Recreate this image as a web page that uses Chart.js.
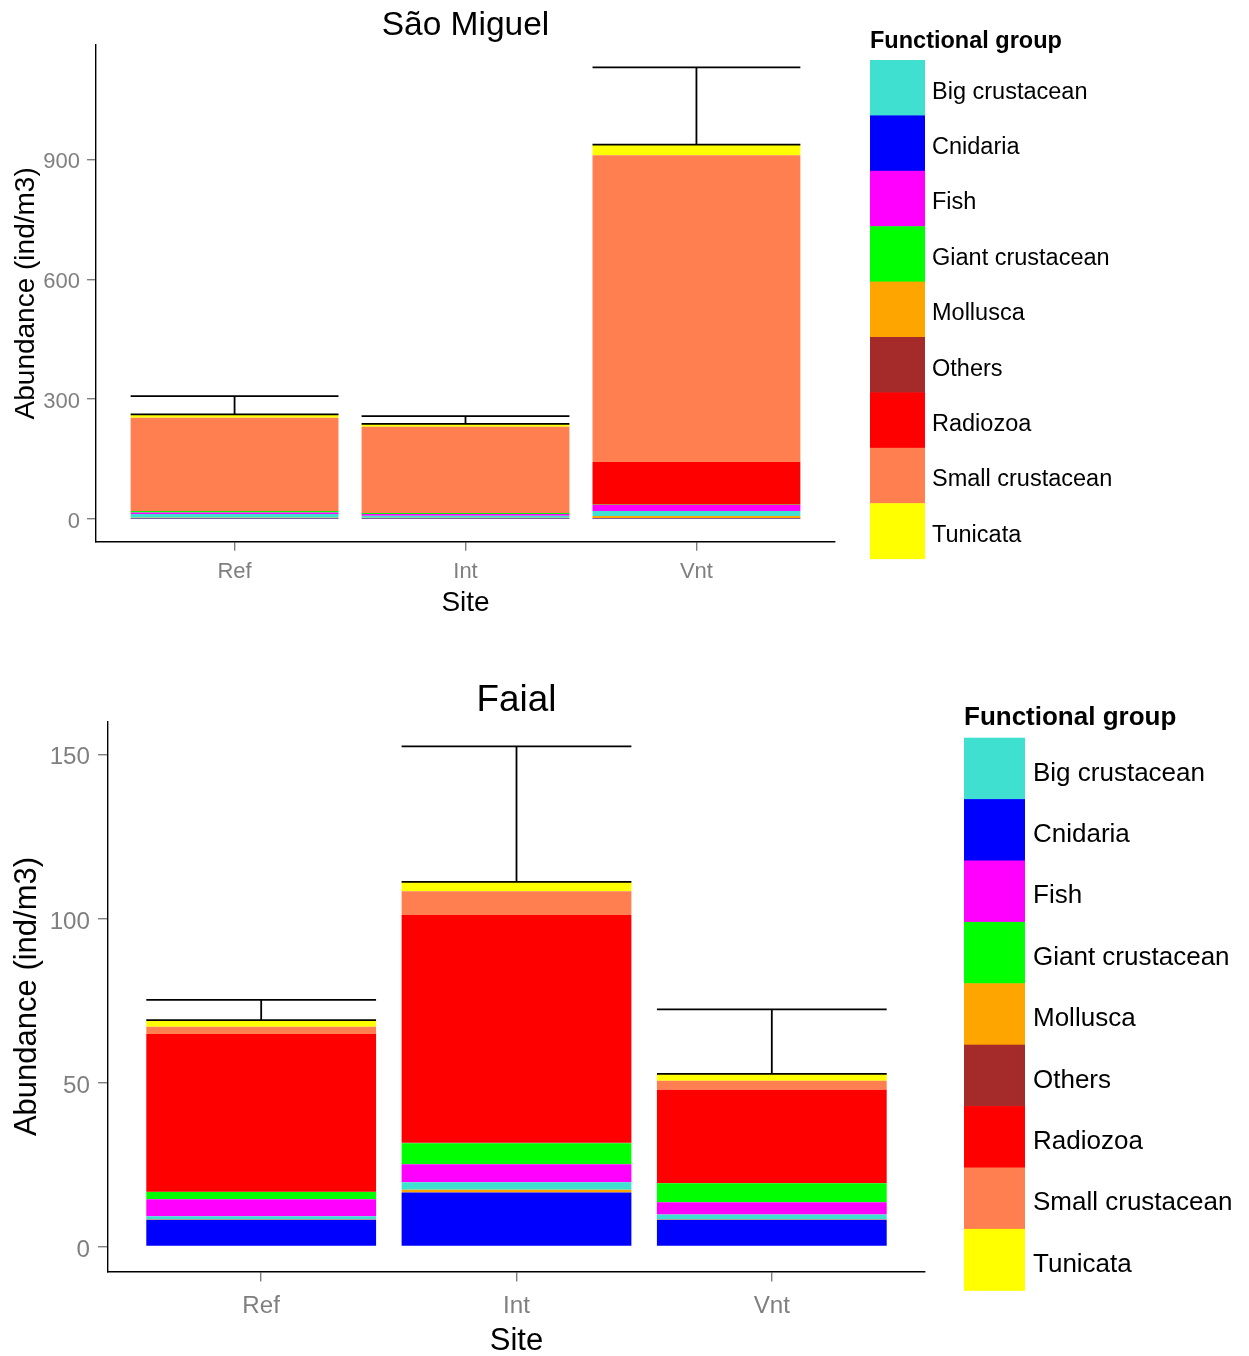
<!DOCTYPE html>
<html>
<head>
<meta charset="utf-8">
<title>Abundance by functional group</title>
<script src="https://cdn.jsdelivr.net/npm/chart.js@4.4.0/dist/chart.umd.min.js"></script>
<style>
  body { margin: 0; background: #fff; }
  canvas { display: block; }
</style>
</head>
<body>
<canvas id="saoMiguel" width="1249" height="640"></canvas>
<canvas id="faial" width="1249" height="716"></canvas>
<script>
const sites = ['Ref', 'Int', 'Vnt'];

// stacking order, bottom to top
const groups = [
  'Cnidaria',
  'Mollusca',
  'Big crustacean',
  'Fish',
  'Giant crustacean',
  'Others',
  'Radiozoa',
  'Small crustacean',
  'Tunicata'
];

const groupColors = [
  '#0000FF',
  '#FFA500',
  '#40E0D0',
  '#FF00FF',
  '#00FF00',
  '#A52A2A',
  '#FF0000',
  '#FF7F50',
  '#FFFF00'
];

// São Miguel, one row per group (Ref, Int, Vnt)
const smCnidaria = [0.5, 0.4, 0.5];
const smMollusca = [2.5, 2.5, 6.8];
const smBigCrust = [9.2, 5.0, 12.6];
const smFish = [4.2, 4.2, 15.1];
const smGiantCrust = [3.3, 2.5, 0.8];
const smOthers = [0.3, 0.3, 0.5];
const smRadiozoa = [0.5, 0.4, 106.3];
const smSmallCrust = [233.0, 215.5, 768.0];
const smTunicata = [8.5, 7.5, 26.9];
const smSE = [45.8, 19.2, 193.5];
const smTicks = [0, 300, 600, 900];

// Faial
const faCnidaria = [8.2, 16.5, 8.2];
const faMollusca = [0.1, 0.8, 0.1];
const faBigCrust = [0.9, 2.3, 1.5];
const faFish = [5.2, 5.5, 3.7];
const faGiantCrust = [2.2, 6.4, 5.8];
const faOthers = [0.1, 0.1, 0.1];
const faRadiozoa = [48.1, 69.4, 28.4];
const faSmallCrust = [2.2, 7.3, 2.7];
const faTunicata = [2.0, 2.8, 2.1];
const faSE = [6.2, 41.3, 19.7];
const faTicks = [0, 50, 100, 150];

const legendOrder = [...groups].sort();
const grey = '#7F7F7F';

Chart.defaults.font.family = '"Liberation Sans", Arial, sans-serif';

// mean + SE bars drawn on top of the stacks
const errorBars = {
  id: 'errorBars',
  afterDatasetsDraw(chart, args, opts) {
    const { ctx, scales: { x, y } } = chart;
    const bars = chart.getDatasetMeta(0).data;
    ctx.save();
    ctx.strokeStyle = '#000';
    ctx.lineWidth = opts.width;
    opts.totals.forEach((t, i) => {
      const half = bars[i].width / 2;
      const cx = x.getPixelForValue(i + 1);
      const y0 = y.getPixelForValue(t);
      const y1 = y.getPixelForValue(t + opts.se[i]);
      ctx.beginPath();
      ctx.moveTo(cx - half, y0);
      ctx.lineTo(cx + half, y0);
      ctx.moveTo(cx - half, y1);
      ctx.lineTo(cx + half, y1);
      ctx.moveTo(cx, y0);
      ctx.lineTo(cx, y1);
      ctx.stroke();
    });
    ctx.restore();
  }
};

// ggplot-style legend with tall keys
const groupLegend = {
  id: 'groupLegend',
  afterDraw(chart, args, o) {
    const { ctx } = chart;
    ctx.save();
    ctx.fillStyle = '#000';
    ctx.textAlign = 'left';
    ctx.textBaseline = 'alphabetic';
    ctx.font = `bold ${o.titleSize}px "Liberation Sans", Arial, sans-serif`;
    ctx.fillText('Functional group', o.x, o.titleY);
    ctx.font = `${o.size}px "Liberation Sans", Arial, sans-serif`;
    ctx.textBaseline = 'middle';
    legendOrder.forEach((name, k) => {
      const ds = chart.data.datasets.find(d => d.label === name);
      const top = o.y + k * o.box;
      ctx.fillStyle = ds.backgroundColor;
      ctx.fillRect(o.x, top, o.boxW, o.box + 0.5);
      ctx.fillStyle = '#000';
      ctx.fillText(name, o.x + o.boxW + o.gap, top + o.box / 2 + o.shift);
    });
    ctx.restore();
  }
};

function panel(id, title, values, se, yTicks, o) {
  const totals = sites.map((s, i) => values.reduce((sum, row) => sum + row[i], 0));

  return new Chart(document.getElementById(id), {
    type: 'bar',
    data: {
      datasets: groups.map((g, k) => ({
        label: g,
        data: values[k].map((v, i) => ({ x: i + 1, y: v })),
        backgroundColor: groupColors[k],
        borderWidth: 0
      }))
    },
    options: {
      responsive: false,
      animation: false,
      events: [],
      barPercentage: 0.9,
      categoryPercentage: 1,
      layout: { padding: { left: 0, top: 0, right: o.right, bottom: 0 } },
      plugins: {
        legend: { display: false },
        tooltip: { enabled: false },
        title: {
          display: true,
          text: title,
          fullSize: false,
          color: '#000',
          font: { size: o.titleSize, weight: 'normal', lineHeight: 1 },
          padding: { top: o.titlePad, bottom: o.titlePadBottom }
        },
        errorBars: { totals, se, width: 1.8 },
        groupLegend: o.legend
      },
      scales: {
        x: {
          type: 'linear',
          stacked: true,
          min: 0.4,
          max: 3.6,
          offset: false,
          bounds: 'data',
          afterBuildTicks: s => { s.ticks = sites.map((c, i) => ({ value: i + 1 })); },
          afterFit: s => { s.height = o.xAxisH; },
          ticks: {
            callback: v => sites[v - 1],
            color: grey,
            font: { size: o.tickSize },
            padding: o.xPad,
            maxRotation: 0,
            autoSkip: false
          },
          grid: { offset: false, drawOnChartArea: false, tickLength: o.tick, color: grey, lineWidth: 1.4 },
          border: { color: '#000', width: 1.4 },
          title: {
            display: true,
            text: 'Site',
            color: '#000',
            font: { size: o.axisTitleSize, lineHeight: 1 },
            padding: { top: 0, bottom: o.xTitlePad }
          }
        },
        y: {
          stacked: true,
          min: o.yMin,
          max: o.yMax,
          afterBuildTicks: s => { s.ticks = yTicks.map(v => ({ value: v })); },
          afterFit: s => { s.width = o.yAxisW; },
          ticks: {
            color: grey,
            font: { size: o.tickSize },
            padding: o.yPad,
            labelOffset: o.yLabelShift
          },
          grid: { drawOnChartArea: false, tickLength: o.tick, color: grey, lineWidth: 1.4 },
          border: { color: '#000', width: 1.4 },
          title: {
            display: true,
            text: 'Abundance (ind/m3)',
            color: '#000',
            font: { size: o.axisTitleSize, lineHeight: 1 },
            padding: { top: o.yTitlePad, bottom: 0 }
          }
        }
      }
    },
    plugins: [errorBars, groupLegend]
  });
}

panel('saoMiguel', 'São Miguel',
  [smCnidaria, smMollusca, smBigCrust, smFish, smGiantCrust, smOthers, smRadiozoa, smSmallCrust, smTunicata],
  smSE, smTicks,
  {
    right: 414, yAxisW: 96, xAxisH: 98.3,
    yMin: -57, yMax: 1187,
    titleSize: 33.5, titlePad: 9.2, titlePadBottom: 2.3,
    tickSize: 22, tick: 9, xPad: 8, yPad: 7, yLabelShift: 2.5,
    axisTitleSize: 28, xTitlePad: 23, yTitlePad: 12,
    legend: { x: 870, titleY: 47.5, y: 60, box: 55.4, boxW: 55, gap: 7, size: 23.5, titleSize: 23.5, shift: 4.5 }
  });

panel('faial', 'Faial',
  [faCnidaria, faMollusca, faBigCrust, faFish, faGiantCrust, faOthers, faRadiozoa, faSmallCrust, faTunicata],
  faSE, faTicks,
  {
    right: 324, yAxisW: 108, xAxisH: 84.5,
    yMin: -7.6, yMax: 160,
    titleSize: 36.8, titlePad: 42.1, titlePadBottom: 2.6,
    tickSize: 24.2, tick: 10, xPad: 10, yPad: 8, yLabelShift: 3.5,
    axisTitleSize: 31, xTitlePad: -0.5, yTitlePad: 11.6,
    legend: { x: 964, titleY: 85, y: 97.7, box: 61.4, boxW: 61, gap: 8, size: 26, titleSize: 26, shift: 5 }
  });
</script>
</body>
</html>
